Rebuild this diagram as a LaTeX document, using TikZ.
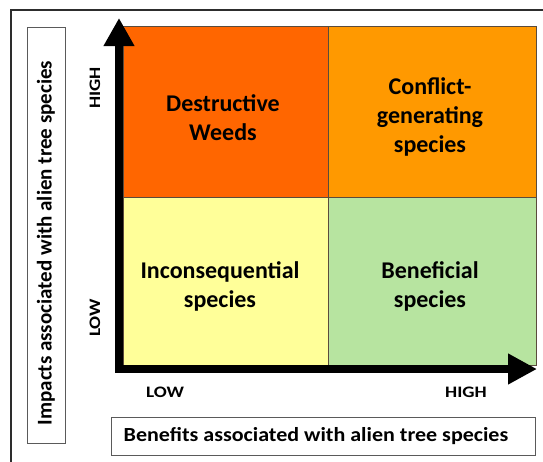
\documentclass[tikz,border=0pt]{standalone}
\usepackage{fontspec}
\setmainfont{Carlito}
\newfontfamily\widelbl{Carlito}[FakeStretch=1.2]
\newfontfamily\widettl{Carlito}[FakeStretch=1.1]
\usetikzlibrary{arrows.meta}
\definecolor{cDW}{RGB}{255,102,0}
\definecolor{cCG}{RGB}{255,153,0}
\definecolor{cIS}{RGB}{255,255,153}
\definecolor{cBS}{RGB}{183,228,160}
\definecolor{cEdge}{RGB}{90,75,60}
\definecolor{cFrame}{RGB}{45,45,45}
\definecolor{cBox}{RGB}{90,90,90}
\tikzset{
  quad/.style={draw=cEdge, line width=1pt, inner sep=0pt},
  quadtext/.style={inner sep=0pt, align=center,
    font=\bfseries\fontsize{24}{29}\selectfont},
  axislbl/.style={font=\widelbl\bfseries\fontsize{16}{18}\selectfont, inner sep=0pt},
  titlebox/.style={draw=cBox, line width=1pt, inner sep=0pt},
  titletext/.style={inner sep=0pt},
  axisline/.style={line width=8pt, line join=miter,
    {Triangle[width=29pt,length=28pt]}-{Triangle[width=29pt,length=29pt]}}
}
\begin{document}
\begin{tikzpicture}[x=1pt,y=-1pt]
\useasboundingbox (0,0) rectangle (543,461);
\fill[white] (0,0) rectangle (543,461);
% outer frame (runs off the right and bottom edges)
\draw[cFrame, line width=1.5pt] (11,480) -- (11,10) -- (560,10);
% quadrants
\node[quad, fill=cDW, minimum width=205pt, minimum height=171pt] (dw) at (225.5,111.5) {};
\node[quad, fill=cCG, minimum width=208pt, minimum height=171pt] (cg) at (432,111.5) {};
\node[quad, fill=cIS, minimum width=205pt, minimum height=168pt] (is) at (225.5,281) {};
\node[quad, fill=cBS, minimum width=208pt, minimum height=168pt] (bs) at (432,281) {};
\node[quadtext] (dwt) at (223,118) {Destructive\\Weeds};
\node[quadtext] (cgt) at (430,117) {Conflict-\\generating\\species};
\node[quadtext] (ist) at (220,286) {Inconsequential\\species};
\node[quadtext] (bst) at (430,286) {Beneficial\\species};
% axes
\coordinate (vtip) at (119,18);
\coordinate (htip) at (537,369);
\draw[axisline] (vtip) |- (htip);
% axis level labels
\node[axislbl, rotate=90] (yhigh) at (95,88) {HIGH};
\node[axislbl, rotate=90] (ylow) at (95,318) {LOW};
\node[axislbl] (xlow) at (165,392) {LOW};
\node[axislbl] (xhigh) at (466,392) {HIGH};
% axis titles
\node[titlebox, minimum width=38pt, minimum height=416pt] (ybox) at (46,235) {};
\node[titletext, rotate=90, font=\bfseries\fontsize{21}{24}\selectfont] (ytitle) at (46,243) {Impacts associated with alien tree species};
\node[titlebox, minimum width=424pt, minimum height=38pt] (xbox) at (323,436) {};
\node[titletext, font=\widettl\bfseries\fontsize{20}{24}\selectfont] (xtitle) at (316,436) {Benefits associated with alien tree species};
\end{tikzpicture}
\end{document}
